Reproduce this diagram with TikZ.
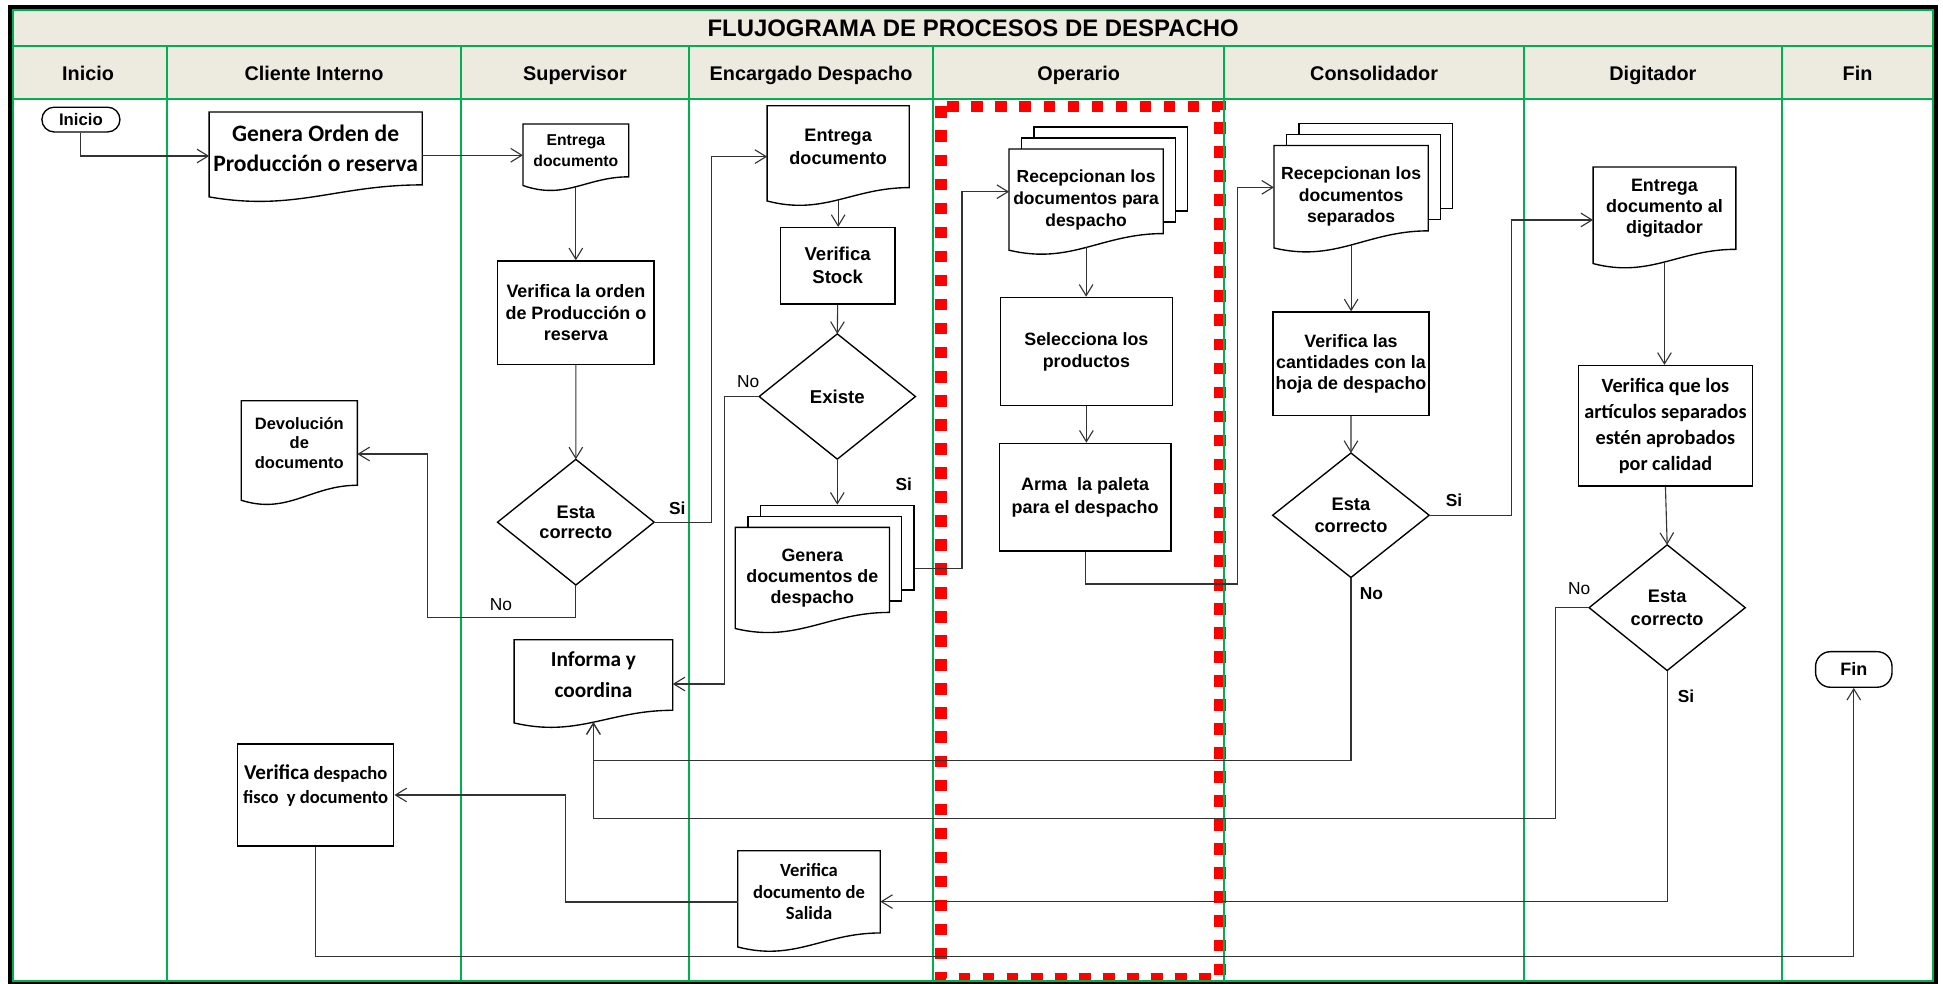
\documentclass[tikz,border=0pt]{standalone}
\usepackage{fontspec}
\setmainfont{Liberation Sans}
\newfontfamily\calfont{Carlito}
\usetikzlibrary{arrows.meta,calc}
\pgfdeclarelayer{bg}
\pgfdeclarelayer{shp}
\pgfsetlayers{bg,shp,main}
\definecolor{lanegreen}{RGB}{0,176,80}
\definecolor{headbg}{RGB}{237,235,224}
\definecolor{dashred}{RGB}{255,0,0}

% document shape: node spans top .. right-bottom; left side goes #2 lower
\newcommand\DocA[2]{%
  \begin{pgfonlayer}{shp}
  \draw[shp] (#1.north west) -- (#1.north east) -- (#1.south east)
    .. controls ($(#1.south west)!0.6!(#1.south east)$) and ($(#1.south west)!0.4!(#1.south east)+(0,#2+12)$)
    .. ($(#1.south west)+(0,#2)$) -- cycle;
  \end{pgfonlayer}
  \coordinate (#1-b) at ($(#1.south)+(0,#2/2+4.5)$);}
% document shape: node spans top .. left-bottom; right side ends #2 higher
\newcommand\DocB[2]{%
  \begin{pgfonlayer}{shp}
  \draw[shp] (#1.north west) -- (#1.north east) -- ($(#1.south east)+(0,-#2)$)
    .. controls ($(#1.south west)!0.6!(#1.south east)+(0,-#2)$) and ($(#1.south west)!0.4!(#1.south east)+(0,12)$)
    .. (#1.south west) -- cycle;
  \end{pgfonlayer}
  \coordinate (#1-b) at ($(#1.south)+(0,4.5-#2/2)$);}
\newcommand\DiaOutline[1]{%
  \begin{pgfonlayer}{shp}
  \draw[shp] (#1.north) -- (#1.east) -- (#1.south) -- (#1.west) -- cycle;
  \end{pgfonlayer}}

\begin{document}
\begin{tikzpicture}[x=1pt,y=-1pt,
  shp/.style={draw=black, line width=1.1, fill=white, line join=miter},
  sheet/.style={draw=black, line width=1.1, fill=white, inner sep=0},
  box/.style={draw=black, line width=1.1, fill=white, inner sep=0, align=center},
  txt/.style={inner sep=0, align=center},
  term/.style={draw=black, line width=1.1, fill=white, inner sep=0, rounded corners=10},
  con/.style={draw=black!80, line width=0.9},
  arr/.style={-{Straight Barb[length=9pt,width=11pt]}},
  grn/.style={draw=lanegreen, line width=1.7},
  hdr/.style={inner sep=0, text height=11.5, text depth=0, font=\bfseries\fontsize{16}{18}\selectfont},
  lblb/.style={inner sep=0, text height=10, text depth=0, font=\bfseries\fontsize{14}{16}\selectfont},
  lbln/.style={inner sep=0, text height=10, text depth=0, font=\fontsize{14}{16}\selectfont},
  fA/.style={font=\bfseries\fontsize{14.5}{17}\selectfont}
]
\useasboundingbox (0,0) rectangle (1568,794);

\begin{pgfonlayer}{bg}
  \fill[white] (0,0) rectangle (1568,794);
  \fill[headbg] (10.5,8.1) rectangle (1560.2,80.2);
  \draw[dashred, line width=9.4, dash pattern=on 9.4 off 10] (759.5,85.9) rectangle (984.6,789.5);
  \draw[grn] (10.5,36.8) -- (1560.2,36.8);
  \draw[grn] (10.5,80.2) -- (1560.2,80.2);
  \foreach \xx in {134.9,371.8,555.9,752.6,987.8,1229.8,1438.2}
    \draw[grn] (\xx,36.8) -- (\xx,791.7);
  \draw[lanegreen, line width=1.6] (10.5,8.1) rectangle (1560.2,791.75);
  \draw[black, line width=3.2] (8.1,5.65) rectangle (1562.6,794.4);
\end{pgfonlayer}

% title and headers
\node[inner sep=0, text height=13.8, text depth=0, font=\bfseries\fontsize{19.3}{22}\selectfont] (title) at (785.3,22.9) {FLUJOGRAMA DE PROCESOS DE DESPACHO};
\node[hdr] (h1) at (71.1,59.2) {Inicio};
\node[hdr] (h2) at (253.4,59.2) {Cliente Interno};
\node[hdr] (h3) at (464,59.2) {Supervisor};
\node[hdr] (h4) at (654.5,59.2) {Encargado Despacho};
\node[hdr] (h5) at (870.5,59.2) {Operario};
\node[hdr] (h6) at (1108.9,59.2) {Consolidador};
\node[hdr] (h7) at (1333.9,59.2) {Digitador};
\node[hdr] (h8) at (1499,59.2) {Fin};

% terminators
\node[term, minimum width=63, minimum height=20, font=\bfseries\fontsize{13.5}{15}\selectfont] (ini) at (65.3,96.5) {Inicio};
\node[term, minimum width=61.7, minimum height=28.7, rounded corners=12, font=\bfseries\fontsize{14.5}{16}\selectfont] (fin) at (1496,540.25) {Fin};

% single documents
\node[txt, minimum width=171.5, minimum height=58.4, font=\calfont\bfseries\fontsize{19}{24}\selectfont] (gord) at (254.75,119.8) {Genera Orden de\\Producción o reserva};
\DocA{gord}{9.7}
\node[txt, minimum width=85, minimum height=42.2, font=\bfseries\fontsize{12.7}{16.7}\selectfont] (sent) at (464.7,121.4) {Entrega\\documento};
\DocA{sent}{7}
\node[txt, minimum width=114.2, minimum height=65.7, font=\bfseries\fontsize{14.6}{18.3}\selectfont] (eent) at (676.4,118.35) {Entrega\\documento};
\DocA{eent}{10.8}
\node[txt, minimum width=93.3, minimum height=67.8, font=\bfseries\fontsize{13.3}{16.1}\selectfont] (dev) at (241.55,357.5) {Devolución\\de\\documento};
\DocA{dev}{12.1}
\node[txt, minimum width=127.6, minimum height=56.5, font=\calfont\bfseries\fontsize{17.2}{25}\selectfont] (inf) at (478.9,544.75) {Informa y\\coordina};
\DocA{inf}{10.2}
\node[txt, minimum width=114.6, minimum height=66, font=\calfont\bfseries\fontsize{15}{17.5}\selectfont] (sal) at (652.9,719.7) {Verifica\\documento de\\Salida};
\DocA{sal}{11.3}
\node[txt, minimum width=114.8, minimum height=66, font=\bfseries\fontsize{14.5}{17}\selectfont] (dent) at (1343.2,168) {Entrega\\documento al\\digitador};
\DocA{dent}{11.5}

% multi documents
\node[txt, minimum width=124.1, minimum height=81.2, font=\bfseries\fontsize{14.4}{17.1}\selectfont] (gen) at (655.55,466.4) {Genera\\documentos de\\despacho};
\begin{pgfonlayer}{shp}
  \node[sheet, minimum width=124.1, minimum height=68.2] (gen3) at (675.55,441.9) {};
  \node[sheet, minimum width=124.1, minimum height=68.2] (gen2) at (665.55,450.9) {};
\end{pgfonlayer}
\DocB{gen}{13}

\node[txt, minimum width=124, minimum height=81.2, font=\bfseries\fontsize{14.1}{17.7}\selectfont] (rec1) at (876.5,161.1) {Recepcionan los\\documentos para\\despacho};
\begin{pgfonlayer}{shp}
  \node[sheet, minimum width=124, minimum height=67.8] (rec1c) at (896.5,136.4) {};
  \node[sheet, minimum width=124, minimum height=67.8] (rec1b) at (886.5,145.4) {};
\end{pgfonlayer}
\DocB{rec1}{13.4}

\node[txt, minimum width=124.1, minimum height=82.3, font=\bfseries\fontsize{14.2}{17.5}\selectfont] (rec2) at (1090.35,158.75) {Recepcionan los\\documentos\\separados};
\begin{pgfonlayer}{shp}
  \node[sheet, minimum width=124.1, minimum height=68.5] (rec2c) at (1110.35,133.85) {};
  \node[sheet, minimum width=124.1, minimum height=68.5] (rec2b) at (1100.35,142.85) {};
\end{pgfonlayer}
\DocB{rec2}{13.8}

% process boxes
\node[box, fA, minimum width=126.1, minimum height=83.4] (sver) at (464.75,252.3) {Verifica la orden\\de Producción o\\reserva};
\node[box, minimum width=92.6, minimum height=61.6, font=\bfseries\fontsize{15}{18.5}\selectfont] (stk) at (676,214.5) {Verifica\\Stock};
\node[box, minimum width=139, minimum height=87.4, font=\bfseries\fontsize{14.4}{17.5}\selectfont] (sel) at (876.7,283.7) {Selecciona los\\productos};
\node[box, minimum width=138.6, minimum height=86.8, font=\bfseries\fontsize{14.5}{18.6}\selectfont] (arma) at (875.7,401.2) {Arma\ \ la paleta\\para el despacho};
\node[box, minimum width=125.9, minimum height=83.4, font=\bfseries\fontsize{14.4}{17}\selectfont] (cver) at (1090.25,293.5) {Verifica las\\cantidades con la\\hoja de despacho};
\node[box, minimum width=140, minimum height=97.2, font=\calfont\bfseries\fontsize{16.3}{21}\selectfont] (dver) at (1344,343.6) {Verifica que los\\artículos separados\\estén aprobados\\por calidad};
\node[box, minimum width=126.1, minimum height=82.3, font=\calfont\bfseries\fontsize{15}{19.6}\selectfont] (fver) at (254.75,641.55) {{\fontsize{17}{19.6}\selectfont Verifica} despacho\\fisco\ \ y documento\\[-2pt]\mbox{}};

% decisions
\node[txt, minimum width=126, minimum height=101, font=\bfseries\fontsize{14.7}{16.7}\selectfont] (sdia) at (464.7,421.4) {Esta\\correcto};
\DiaOutline{sdia}
\node[txt, minimum width=125.7, minimum height=100.7, font=\bfseries\fontsize{15}{18}\selectfont] (exi) at (675.7,320) {Existe};
\DiaOutline{exi}
\node[txt, minimum width=125.9, minimum height=100.1, font=\bfseries\fontsize{14.7}{17.5}\selectfont] (cdia) at (1090.2,415.8) {Esta\\correcto};
\DiaOutline{cdia}
\node[txt, minimum width=125.6, minimum height=101, font=\bfseries\fontsize{14.7}{18.3}\selectfont] (ddia) at (1345.4,490.4) {Esta\\correcto};
\DiaOutline{ddia}

% connectors
\coordinate (gordout) at ($(gord.east)+(0,5.5)$);
\draw[con,arr] (ini.south) |- ($(gord.west)+(0,6.1)$);
\draw[con,arr] (gordout) -- (gordout -| sent.west);
\draw[con,arr] (sent-b) -- (sent-b |- sver.north);
\draw[con,arr] (sver.south) -- (sdia.north);
\draw[con,arr] (sdia.east) -- ++(46.2,0) |- ($(eent.west)+(0,8.05)$);
\draw[con,arr] (sdia.south) -- ++(0,26.2) -- ++(-119.6,0) |- ($(dev.east)+(0,8.9)$);
\draw[con,arr] (eent-b) -- (eent-b |- stk.north);
\draw[con,arr] (stk.south) -- (exi.north);
\draw[con,arr] (exi.west) -- ++(-28.1,0) |- ($(inf.east)+(0,7.25)$);
\draw[con,arr] (exi.south) -- (exi.south |- gen3.north);
\draw[con,arr] ($(gen3.east)+(0,16.7)$) -- ++(38.2,0) |- ($(rec1.west)+(0,-6.4)$);
\draw[con,arr] (rec1-b) -- (rec1-b |- sel.north);
\draw[con,arr] (sel.south) -- (sel.south |- arma.north);
\draw[con,arr] (arma.south) -- ++(0,26.1) -- ++(123,0) |- ($(rec2.west)+(0,-7.55)$);
\draw[con,arr] (rec2-b) -- (rec2-b |- cver.north);
\draw[con,arr] (cver.south) -- (cdia.north);
\draw[con,arr] (cdia.east) -- ++(66.35,0) |- ($(dent.west)+(0,9.5)$);
\draw[con,arr] (cdia.south) -- ++(0,148) -| (inf-b);
\draw[con,arr] (ddia.west) -- ++(-27.3,0) -- ++(0,170.3) -| (inf-b);
\draw[con,arr] (ddia.south) |- ($(sal.east)+(0,7.9)$);
\draw[con,arr] ($(sal.west)+(0,8.2)$) -- ++(-139.2,0) |- (fver.east);
\draw[con,arr] (fver.south) -- ++(0,88.8) -| (fin.south);
\draw[con,arr] (dent-b) -- (dent-b |- dver.north);
\draw[con,arr] (dver.south) -- (ddia.north);

% branch labels
\node[lblb] (lsi1) at (546.5,410.2) {Si};
\node[lbln] (lno1) at (404.2,487.7) {No};
\node[lbln] (lno2) at (603.7,308) {No};
\node[lblb] (lsi2) at (729.4,390.6) {Si};
\node[lblb] (lsi3) at (1173.4,403.5) {Si};
\node[lblb] (lno3) at (1106.8,478.8) {No};
\node[lbln] (lno4) at (1274.4,474.8) {No};
\node[lblb] (lsi4) at (1360.6,562.2) {Si};
\end{tikzpicture}
\end{document}
